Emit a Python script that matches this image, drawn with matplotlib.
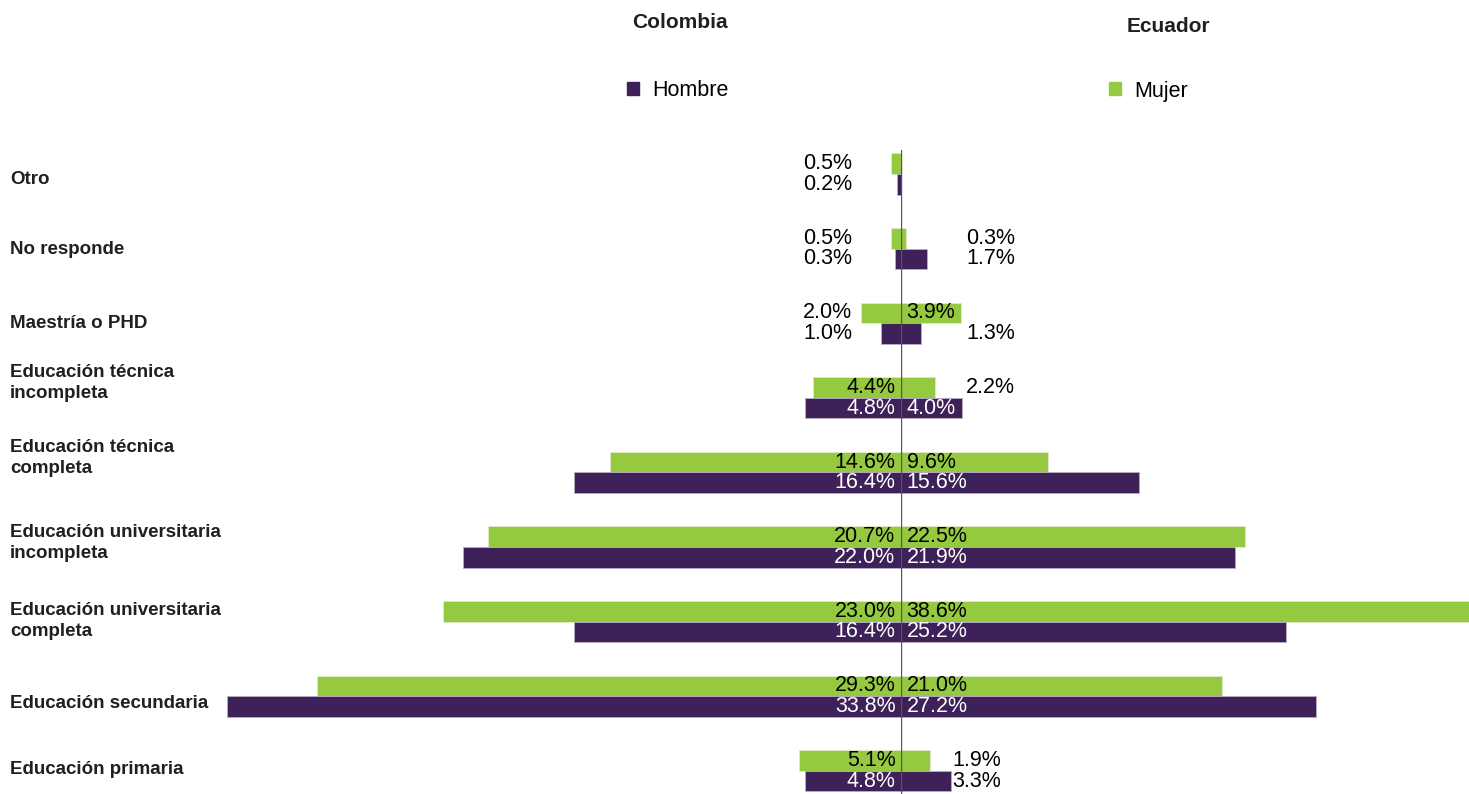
import numpy as np
import matplotlib
matplotlib.use('Agg')
import matplotlib.pyplot as plt
from matplotlib.patches import Patch

plt.rcParams['font.family'] = ['Liberation Sans', 'DejaVu Sans']

# Daten
categorias = ['Otro', 'No responde', 'Maestría o PHD', 'Educación técnica\nincompleta',
              'Educación técnica\ncompleta', 'Educación universitaria\nincompleta',
              'Educación universitaria\ncompleta', 'Educación secundaria', 'Educación primaria']
col_mujer = [0.5, 0.5, 2.0, 4.4, 14.6, 20.7, 23.0, 29.3, 5.1]
col_hombre = [0.2, 0.3, 1.0, 4.8, 16.4, 22.0, 16.4, 33.8, 4.8]
ecu_mujer = [np.nan, 0.3, 3.9, 2.2, 9.6, 22.5, 38.6, 21.0, 1.9]
ecu_hombre = [np.nan, 1.7, 1.3, 4.0, 15.6, 21.9, 25.2, 27.2, 3.3]

morado = '#3e2158'
verde = '#95c940'

W, H = 1469, 794
fig = plt.figure(figsize=(W / 100, H / 100), dpi=100)

# Achsen in Pixeln
cx = 901
top_px = 150
row = 74.6
y0 = 174
ylim = ((H - y0) / row, (top_px - y0) / row)

# y-Position der Kategorietexte (Pixel)
label_y = [180, 250, 323, 383, 458, 543, 621, 703, 769]

axL = fig.add_axes([215 / W, 0, (cx - 215) / W, 1 - top_px / H])
axR = fig.add_axes([cx / W, 0, (W - cx) / W, 1 - top_px / H])
axL.set_xlim((cx - 215) / 19.93, 0)
axR.set_xlim(0, (W - cx) / 15.27)
for ax in (axL, axR):
    ax.set_ylim(*ylim)
    ax.axis('off')

y = np.arange(len(categorias))
h = 0.275

axL.barh(y - h / 2, col_mujer, height=h, color=verde, edgecolor='#dfeccc', linewidth=0.6)
axL.barh(y + h / 2, col_hombre, height=h, color=morado, edgecolor='#b9adc6', linewidth=0.6)
axR.barh(y - h / 2, np.nan_to_num(ecu_mujer), height=h, color=verde, edgecolor='#dfeccc', linewidth=0.6)
axR.barh(y + h / 2, np.nan_to_num(ecu_hombre), height=h, color=morado, edgecolor='#b9adc6', linewidth=0.6)

axR.axvline(0, color='#555555', lw=1)

fs = 15.5
schwelle = 3.5
for i in range(len(categorias)):
    # Colombia
    for v, yy, farbe in [(col_mujer[i], y[i] - h / 2, 'black'), (col_hombre[i], y[i] + h / 2, 'white')]:
        if v >= schwelle:
            axL.annotate(f'{v:.1f}%', (0, yy), xytext=(-4, 0), textcoords='offset points',
                         ha='right', va='center', fontsize=fs, color=farbe)
        else:
            axL.text(2.46, yy, f'{v:.1f}%', ha='right', va='center', fontsize=fs, color='black')
    # Ecuador
    if np.isnan(ecu_mujer[i]):
        continue
    xa = 3.35 if i == len(categorias) - 1 else 4.26
    for v, yy, farbe in [(ecu_mujer[i], y[i] - h / 2, 'black'), (ecu_hombre[i], y[i] + h / 2, 'white')]:
        if v >= schwelle:
            axR.annotate(f'{v:.1f}%', (0, yy), xytext=(4, 0), textcoords='offset points',
                         ha='left', va='center', fontsize=fs, color=farbe)
        else:
            axR.text(xa, yy, f'{v:.1f}%', ha='left', va='center', fontsize=fs, color='black')

# Kategorien
for c, ly in zip(categorias, label_y):
    fig.text(10 / W, 1 - ly / H, c, ha='left', va='center',
             fontsize=13.5, fontweight='bold', color='#231f20', linespacing=1.35)

# Titel
fig.text(680 / W, 1 - 23 / H, 'Colombia', ha='center', va='center', fontsize=15, fontweight='bold', color='#231f20')
fig.text(1168 / W, 1 - 26 / H, 'Ecuador', ha='center', va='center', fontsize=15, fontweight='bold', color='#231f20')

# Legende
for x, farbe, lab in [(627, morado, 'Hombre'), (1109, verde, 'Mujer')]:
    fig.legend(handles=[Patch(color=farbe)], labels=[lab], loc='center left',
               bbox_to_anchor=(x / W, 1 - 91 / H), frameon=False, fontsize=15.5,
               handlelength=0.55, handleheight=0.55, handletextpad=0.6,
               borderaxespad=0, borderpad=0)

plt.savefig('out.png', dpi=100)
